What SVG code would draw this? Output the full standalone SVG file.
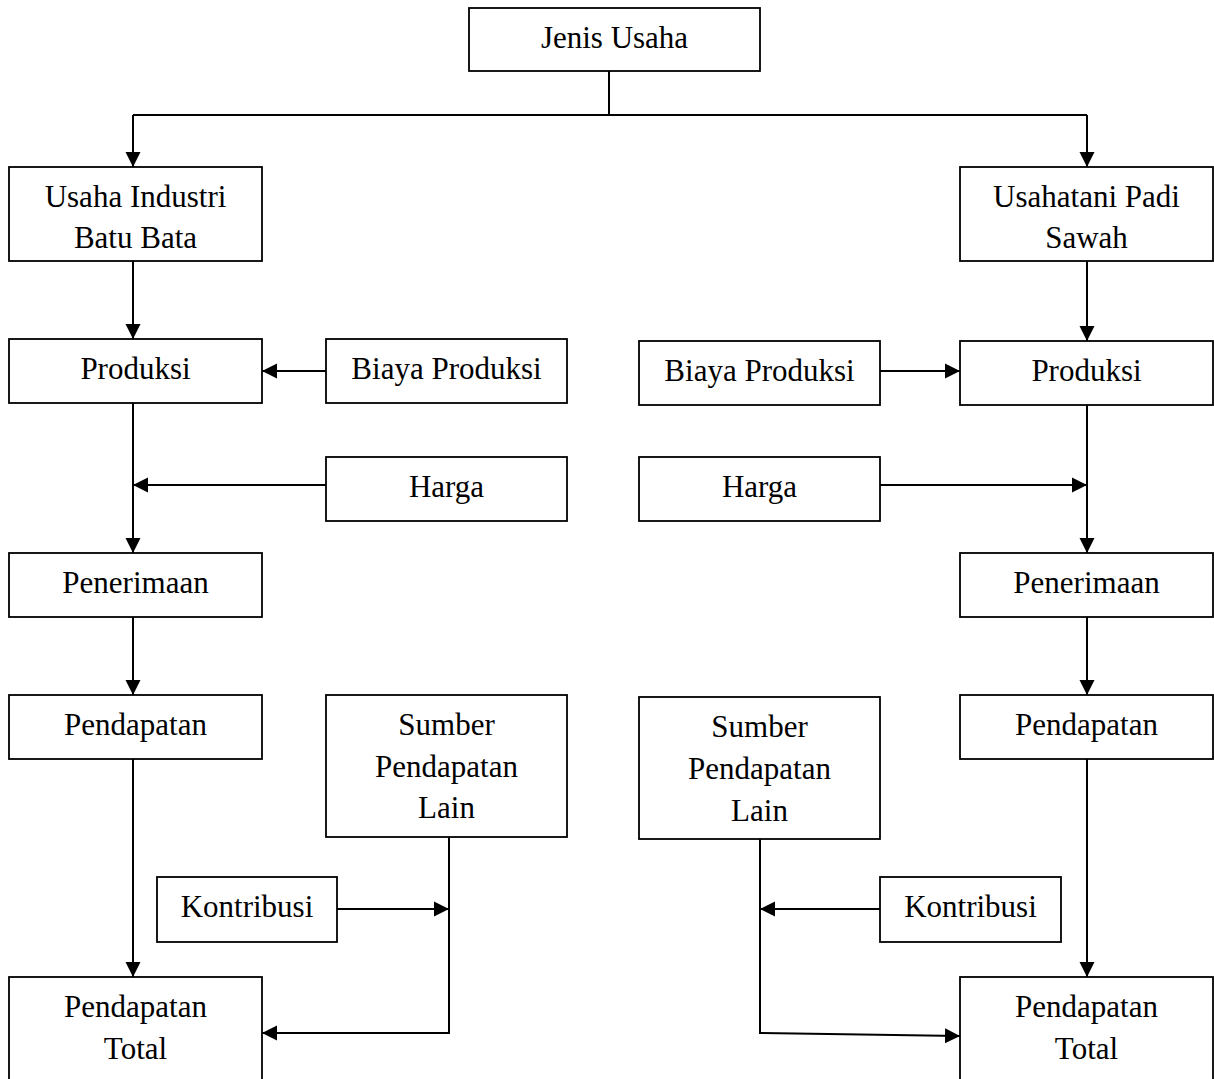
<svg xmlns="http://www.w3.org/2000/svg" width="1214" height="1079" viewBox="0 0 1214 1079">
<style>
.box{fill:#fff;stroke:#000;stroke-width:1.8}
.t{font-family:"Liberation Serif","Times New Roman",serif;font-size:31px;fill:#000;text-anchor:middle}
.ln{fill:none;stroke:#000;stroke-width:2}
</style>
<defs>
<marker id="ah" markerUnits="userSpaceOnUse" markerWidth="16" markerHeight="16" refX="15" refY="8" orient="auto" viewBox="0 0 16 16">
<path d="M0,0.5 L15,8 L0,15.5 z" fill="#000"/>
</marker>
</defs>
<rect width="1214" height="1079" fill="#fff"/>
<g id="connectors">
<path class="ln" d="M609,71 V115 M133,115 H1087"/>
<path class="ln" d="M133,115 V167" marker-end="url(#ah)"/>
<path class="ln" d="M1087,115 V167" marker-end="url(#ah)"/>
<path class="ln" d="M133,261 V339" marker-end="url(#ah)"/>
<path class="ln" d="M1087,261 V341" marker-end="url(#ah)"/>
<path class="ln" d="M326,371 H262" marker-end="url(#ah)"/>
<path class="ln" d="M880,371 H960" marker-end="url(#ah)"/>
<path class="ln" d="M133,403 V553" marker-end="url(#ah)"/>
<path class="ln" d="M1087,403 V553" marker-end="url(#ah)"/>
<path class="ln" d="M326,485 H133" marker-end="url(#ah)"/>
<path class="ln" d="M880,485 H1087" marker-end="url(#ah)"/>
<path class="ln" d="M133,617 V695" marker-end="url(#ah)"/>
<path class="ln" d="M1087,617 V695" marker-end="url(#ah)"/>
<path class="ln" d="M133,759 V977" marker-end="url(#ah)"/>
<path class="ln" d="M1087,759 V977" marker-end="url(#ah)"/>
<path class="ln" d="M337,909 H449" marker-end="url(#ah)"/>
<path class="ln" d="M880,909 H760" marker-end="url(#ah)"/>
<path class="ln" d="M449,837 V1033 H262" marker-end="url(#ah)"/>
<path class="ln" d="M760,839 V1033 L960,1036" marker-end="url(#ah)"/>
</g>
<g id="jenis-usaha"><rect class="box" x="469" y="8" width="291" height="63"/><text class="t" x="614.5" y="48">Jenis Usaha</text></g>
<g id="usaha-industri"><rect class="box" x="9" y="167" width="253" height="94"/><text class="t" x="135.5" y="207">Usaha Industri</text><text class="t" x="135.5" y="248">Batu Bata</text></g>
<g id="usahatani"><rect class="box" x="960" y="167" width="253" height="94"/><text class="t" x="1086.5" y="207">Usahatani Padi</text><text class="t" x="1086.5" y="248">Sawah</text></g>
<g id="produksi-l"><rect class="box" x="9" y="339" width="253" height="64"/><text class="t" x="135.5" y="379">Produksi</text></g>
<g id="biaya-l"><rect class="box" x="326" y="339" width="241" height="64"/><text class="t" x="446.5" y="379">Biaya Produksi</text></g>
<g id="biaya-r"><rect class="box" x="639" y="341" width="241" height="64"/><text class="t" x="759.5" y="381">Biaya Produksi</text></g>
<g id="produksi-r"><rect class="box" x="960" y="341" width="253" height="64"/><text class="t" x="1086.5" y="381">Produksi</text></g>
<g id="harga-l"><rect class="box" x="326" y="457" width="241" height="64"/><text class="t" x="446.5" y="497">Harga</text></g>
<g id="harga-r"><rect class="box" x="639" y="457" width="241" height="64"/><text class="t" x="759.5" y="497">Harga</text></g>
<g id="penerimaan-l"><rect class="box" x="9" y="553" width="253" height="64"/><text class="t" x="135.5" y="593">Penerimaan</text></g>
<g id="penerimaan-r"><rect class="box" x="960" y="553" width="253" height="64"/><text class="t" x="1086.5" y="593">Penerimaan</text></g>
<g id="pendapatan-l"><rect class="box" x="9" y="695" width="253" height="64"/><text class="t" x="135.5" y="735">Pendapatan</text></g>
<g id="pendapatan-r"><rect class="box" x="960" y="695" width="253" height="64"/><text class="t" x="1086.5" y="735">Pendapatan</text></g>
<g id="sumber-l"><rect class="box" x="326" y="695" width="241" height="142"/><text class="t" x="446.5" y="735">Sumber</text><text class="t" x="446.5" y="777">Pendapatan</text><text class="t" x="446.5" y="818">Lain</text></g>
<g id="sumber-r"><rect class="box" x="639" y="697" width="241" height="142"/><text class="t" x="759.5" y="737">Sumber</text><text class="t" x="759.5" y="779">Pendapatan</text><text class="t" x="759.5" y="821">Lain</text></g>
<g id="kontribusi-l"><rect class="box" x="157" y="877" width="180" height="65"/><text class="t" x="247" y="917">Kontribusi</text></g>
<g id="kontribusi-r"><rect class="box" x="880" y="877" width="181" height="65"/><text class="t" x="970.5" y="917">Kontribusi</text></g>
<g id="total-l"><rect class="box" x="9" y="977" width="253" height="120"/><text class="t" x="135.5" y="1017">Pendapatan</text><text class="t" x="135.5" y="1059">Total</text></g>
<g id="total-r"><rect class="box" x="960" y="977" width="253" height="120"/><text class="t" x="1086.5" y="1017">Pendapatan</text><text class="t" x="1086.5" y="1059">Total</text></g>
</svg>
